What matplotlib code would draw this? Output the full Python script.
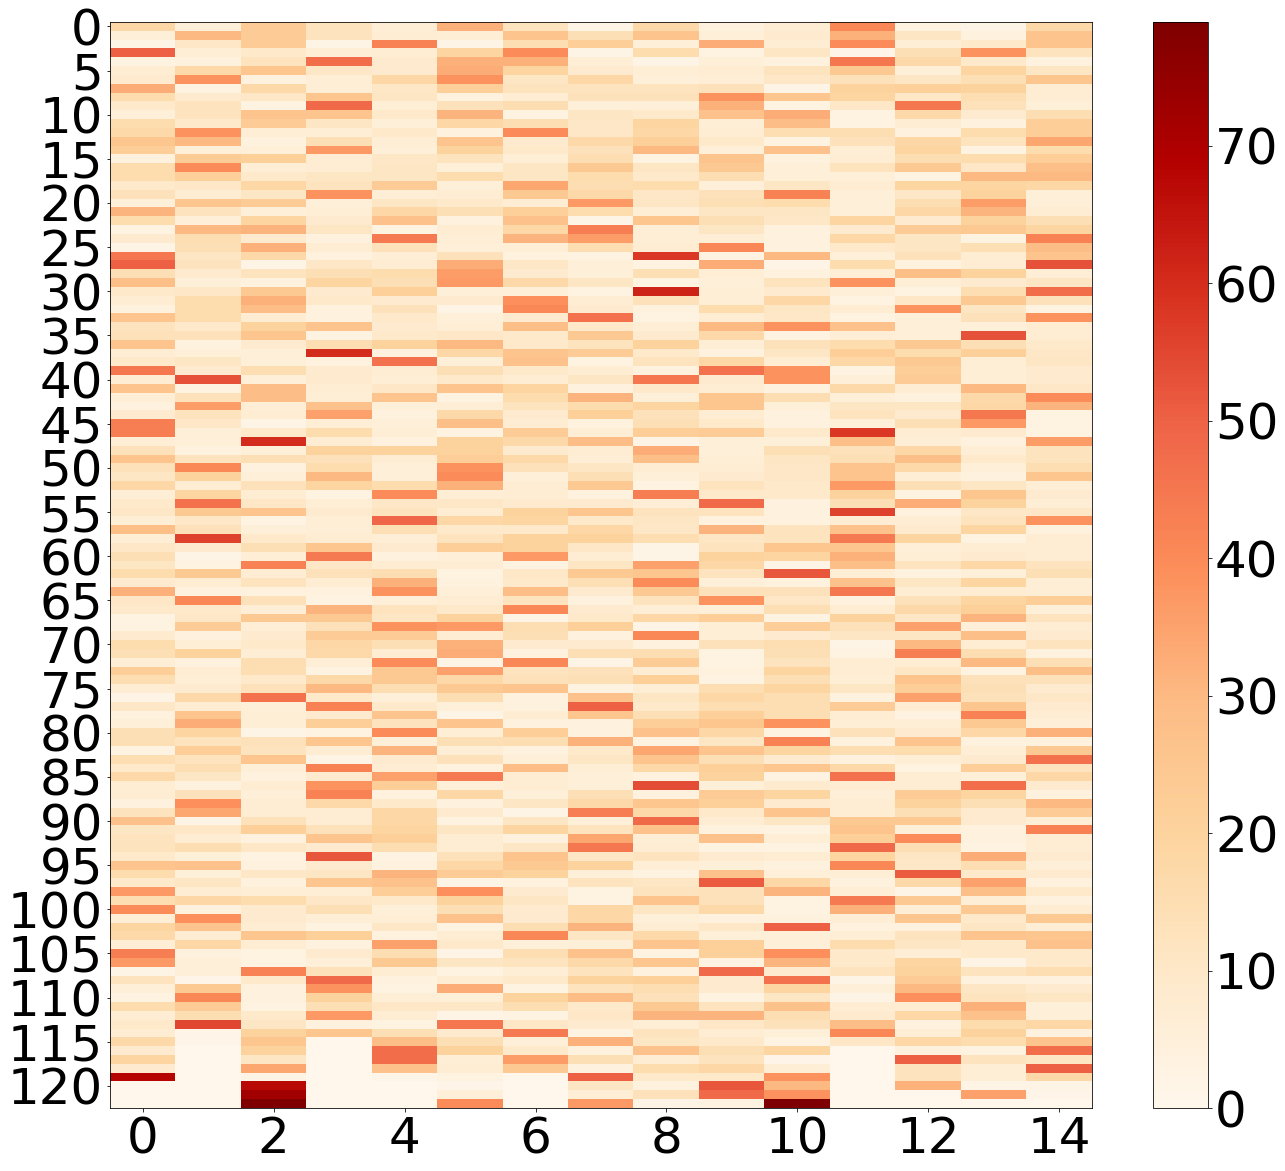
import matplotlib
matplotlib.use("Agg")
import matplotlib.pyplot as plt
import numpy as np

WIDTH = 1285
HEIGHT = 1171
DPI = 72
FONT_SIZE = 50

ROWS_0_20 = [
    [18, 5, 23, 12, 6, 32, 12, 2, 17, 4, 7, 41, 3, 2, 17],
    [5, 30, 23, 12, 7, 6, 26, 14, 26, 5, 8, 32, 11, 4, 26],
    [2, 10, 23, 2, 42, 2, 15, 22, 5, 33, 7, 40, 6, 9, 26],
    [50, 6, 9, 6, 7, 19, 40, 2, 16, 3, 11, 1, 14, 38, 12],
    [3, 4, 12, 47, 8, 32, 32, 6, 2, 5, 4, 45, 17, 9, 4],
    [7, 17, 25, 10, 8, 33, 19, 8, 6, 7, 12, 24, 5, 19, 11],
    [8, 38, 4, 6, 18, 38, 11, 18, 5, 6, 10, 13, 11, 14, 25],
    [33, 3, 17, 6, 10, 21, 12, 12, 12, 13, 2, 20, 21, 20, 7],
    [16, 8, 10, 25, 11, 4, 7, 13, 13, 38, 25, 19, 10, 15, 7],
    [9, 12, 3, 48, 6, 13, 15, 5, 5, 32, 3, 10, 45, 13, 5],
    [5, 12, 26, 26, 9, 31, 3, 11, 9, 27, 33, 3, 17, 8, 15],
    [16, 9, 23, 11, 5, 18, 15, 10, 19, 6, 29, 3, 7, 4, 22],
    [17, 38, 6, 6, 9, 4, 40, 10, 18, 7, 15, 15, 4, 16, 22],
    [25, 30, 4, 14, 6, 26, 8, 17, 21, 9, 3, 13, 18, 12, 34],
    [22, 5, 5, 37, 5, 20, 9, 13, 30, 5, 27, 6, 19, 3, 16],
    [4, 23, 21, 7, 10, 12, 6, 15, 3, 26, 4, 7, 15, 16, 22],
    [16, 40, 6, 7, 11, 5, 11, 24, 11, 24, 5, 12, 24, 10, 28],
    [16, 21, 9, 11, 11, 16, 11, 16, 9, 15, 5, 5, 3, 30, 30],
    [9, 10, 18, 12, 23, 5, 34, 15, 16, 5, 11, 7, 19, 19, 18],
    [13, 7, 11, 38, 6, 7, 24, 17, 10, 13, 42, 5, 10, 20, 5],
    [5, 25, 23, 5, 11, 9, 7, 37, 11, 14, 16, 5, 15, 36, 5],
]

ROWS_21_40 = [
    [31, 12, 5, 6, 18, 14, 21, 16, 6, 11, 11, 5, 18, 31, 7],
    [16, 5, 19, 8, 27, 4, 27, 2, 25, 14, 10, 19, 8, 20, 14],
    [3, 30, 31, 11, 3, 7, 18, 43, 6, 11, 4, 8, 23, 24, 19],
    [8, 15, 8, 4, 44, 6, 31, 36, 6, 6, 4, 18, 11, 3, 42],
    [2, 14, 32, 7, 13, 5, 6, 15, 7, 41, 4, 9, 11, 14, 29],
    [45, 11, 17, 4, 6, 13, 4, 3, 58, 3, 30, 5, 13, 7, 26],
    [50, 12, 2, 10, 7, 33, 10, 5, 3, 33, 2, 16, 4, 7, 53],
    [14, 8, 12, 14, 16, 36, 8, 5, 14, 6, 4, 6, 28, 20, 6],
    [28, 5, 4, 19, 14, 37, 17, 11, 3, 5, 12, 38, 6, 8, 11],
    [9, 10, 24, 8, 21, 5, 5, 3, 62, 6, 8, 5, 3, 15, 47],
    [7, 16, 32, 9, 8, 8, 39, 7, 13, 6, 18, 3, 10, 24, 13],
    [4, 16, 29, 4, 13, 2, 41, 8, 4, 16, 11, 7, 38, 11, 3],
    [26, 16, 7, 4, 9, 5, 8, 46, 3, 7, 10, 3, 5, 13, 38],
    [12, 9, 20, 26, 8, 6, 28, 9, 6, 30, 38, 27, 5, 5, 7],
    [13, 13, 25, 3, 9, 10, 9, 24, 8, 17, 3, 6, 5, 53, 7],
    [26, 4, 8, 15, 20, 30, 9, 12, 20, 6, 13, 16, 24, 14, 9],
    [7, 5, 5, 60, 4, 18, 26, 23, 9, 4, 11, 22, 16, 21, 10],
    [9, 11, 5, 4, 46, 5, 27, 3, 12, 18, 7, 18, 24, 6, 11],
    [45, 8, 15, 8, 7, 14, 9, 7, 4, 46, 38, 3, 22, 6, 8],
    [7, 53, 5, 8, 6, 9, 7, 11, 45, 8, 38, 5, 23, 6, 8],
]

ROWS_41_61 = [
    [26, 3, 29, 7, 10, 26, 19, 4, 9, 7, 4, 17, 7, 30, 10],
    [6, 13, 29, 6, 26, 3, 16, 31, 5, 25, 15, 5, 4, 17, 40],
    [4, 36, 6, 27, 5, 6, 12, 16, 19, 25, 5, 11, 11, 18, 31],
    [8, 12, 7, 35, 4, 17, 8, 21, 13, 7, 4, 12, 8, 45, 3],
    [43, 10, 2, 6, 5, 28, 7, 4, 14, 9, 4, 5, 14, 37, 3],
    [43, 5, 9, 16, 6, 3, 23, 6, 22, 23, 9, 58, 7, 8, 3],
    [6, 5, 60, 7, 4, 20, 17, 29, 2, 5, 5, 28, 6, 4, 36],
    [13, 4, 5, 20, 20, 20, 8, 7, 33, 5, 14, 13, 18, 6, 12],
    [26, 12, 14, 13, 7, 22, 17, 6, 28, 6, 11, 14, 28, 9, 12],
    [13, 41, 4, 16, 5, 38, 13, 11, 7, 7, 10, 26, 17, 5, 15],
    [11, 20, 5, 30, 5, 40, 5, 14, 5, 8, 10, 26, 6, 4, 25],
    [18, 7, 13, 19, 16, 32, 7, 24, 3, 12, 9, 37, 14, 11, 6],
    [6, 19, 7, 3, 40, 6, 7, 4, 43, 9, 9, 20, 3, 25, 8],
    [9, 46, 10, 6, 10, 10, 8, 8, 6, 48, 4, 14, 33, 20, 6],
    [10, 24, 26, 8, 12, 7, 20, 25, 12, 12, 4, 56, 4, 10, 10],
    [6, 10, 3, 6, 49, 18, 19, 9, 11, 4, 4, 7, 7, 12, 38],
    [28, 13, 5, 6, 14, 9, 9, 18, 10, 31, 12, 27, 8, 19, 4],
    [6, 56, 9, 7, 6, 12, 20, 20, 15, 11, 12, 44, 19, 3, 7],
    [10, 8, 14, 25, 8, 22, 20, 10, 2, 12, 25, 25, 5, 7, 7],
    [14, 2, 6, 44, 4, 5, 37, 7, 2, 20, 19, 32, 6, 8, 7],
    [11, 3, 42, 10, 7, 7, 3, 11, 35, 18, 2, 28, 12, 18, 12],
]

ROWS_62_81 = [
    [16, 24, 7, 13, 15, 3, 10, 24, 25, 12, 52, 6, 4, 5, 14],
    [8, 7, 12, 7, 32, 4, 9, 14, 40, 5, 4, 27, 11, 19, 6],
    [32, 4, 4, 4, 38, 5, 29, 8, 24, 13, 13, 45, 7, 7, 6],
    [10, 41, 13, 3, 5, 7, 12, 4, 12, 38, 10, 4, 13, 19, 22],
    [9, 9, 6, 31, 12, 9, 41, 8, 6, 5, 14, 7, 17, 21, 5],
    [3, 10, 24, 24, 11, 20, 2, 9, 18, 22, 3, 20, 10, 31, 12],
    [3, 23, 6, 13, 38, 37, 15, 21, 2, 6, 22, 13, 35, 5, 7],
    [8, 4, 8, 23, 23, 7, 14, 4, 41, 6, 8, 11, 11, 28, 8],
    [16, 6, 9, 18, 14, 32, 8, 8, 4, 13, 15, 2, 30, 7, 12],
    [14, 20, 6, 17, 7, 33, 4, 14, 15, 3, 14, 3, 43, 15, 4],
    [6, 4, 15, 6, 40, 2, 41, 2, 23, 3, 12, 7, 7, 30, 14],
    [22, 7, 15, 3, 24, 35, 12, 13, 7, 4, 19, 7, 11, 3, 28],
    [15, 6, 9, 17, 24, 17, 13, 14, 21, 3, 14, 6, 26, 13, 13],
    [7, 8, 13, 30, 15, 24, 26, 3, 6, 15, 19, 11, 22, 14, 8],
    [2, 17, 46, 9, 5, 15, 4, 27, 11, 18, 15, 4, 35, 13, 10],
    [10, 7, 5, 42, 9, 5, 4, 50, 9, 15, 15, 23, 7, 25, 8],
    [4, 26, 6, 8, 26, 2, 7, 25, 14, 21, 15, 7, 3, 42, 7],
    [5, 33, 6, 22, 12, 26, 4, 4, 22, 25, 38, 6, 6, 24, 5],
    [14, 19, 2, 3, 40, 6, 22, 4, 27, 18, 3, 13, 8, 18, 32],
    [14, 12, 13, 25, 5, 14, 15, 32, 3, 11, 42, 4, 26, 4, 4],
]

ROWS_82_102 = [
    [3, 22, 12, 7, 31, 6, 4, 9, 34, 26, 19, 15, 16, 6, 24],
    [15, 12, 25, 2, 8, 13, 5, 11, 26, 14, 8, 4, 6, 8, 46],
    [9, 15, 5, 42, 7, 4, 29, 6, 17, 21, 25, 17, 3, 22, 12],
    [17, 11, 4, 8, 35, 44, 7, 5, 4, 20, 3, 46, 7, 5, 18],
    [7, 4, 7, 38, 22, 5, 7, 5, 54, 5, 8, 7, 7, 47, 8],
    [7, 13, 5, 42, 4, 18, 5, 14, 4, 23, 19, 5, 23, 19, 4],
    [4, 39, 7, 17, 9, 4, 11, 17, 25, 21, 8, 7, 20, 14, 30],
    [12, 34, 7, 7, 18, 8, 2, 43, 17, 9, 26, 7, 14, 8, 23],
    [27, 2, 13, 7, 18, 3, 11, 5, 48, 7, 11, 24, 24, 8, 6],
    [11, 10, 21, 13, 19, 11, 19, 12, 27, 4, 3, 26, 5, 4, 42],
    [12, 7, 4, 26, 21, 7, 4, 34, 6, 27, 6, 21, 40, 4, 7],
    [12, 15, 10, 8, 15, 7, 11, 45, 7, 3, 3, 48, 14, 3, 7],
    [9, 5, 3, 52, 3, 13, 26, 10, 12, 8, 7, 19, 11, 33, 8],
    [26, 27, 4, 8, 4, 18, 24, 20, 6, 5, 4, 41, 10, 15, 5],
    [16, 5, 10, 11, 31, 23, 20, 5, 3, 27, 5, 6, 51, 9, 8],
    [9, 11, 4, 25, 27, 2, 4, 12, 11, 51, 18, 4, 17, 35, 4],
    [37, 7, 6, 6, 22, 39, 8, 3, 12, 13, 31, 6, 2, 28, 9],
    [15, 18, 16, 10, 9, 20, 11, 3, 26, 13, 3, 44, 24, 6, 4],
    [40, 4, 8, 14, 5, 14, 8, 18, 11, 17, 3, 32, 6, 24, 7],
    [6, 39, 8, 6, 6, 27, 8, 18, 5, 4, 4, 6, 25, 9, 24],
    [19, 26, 7, 3, 10, 3, 15, 31, 7, 10, 50, 4, 4, 11, 6],
]

ROWS_103_122 = [
    [17, 7, 25, 21, 4, 7, 41, 11, 17, 5, 5, 6, 12, 26, 25],
    [6, 18, 7, 4, 35, 9, 5, 5, 26, 21, 5, 16, 11, 9, 27],
    [43, 4, 3, 8, 15, 2, 15, 27, 3, 21, 39, 9, 6, 9, 9],
    [37, 5, 3, 5, 24, 11, 12, 17, 25, 3, 31, 9, 19, 2, 9],
    [2, 5, 42, 13, 7, 3, 6, 12, 4, 48, 8, 12, 20, 12, 15],
    [12, 1, 9, 48, 4, 7, 9, 20, 21, 8, 46, 2, 23, 4, 4],
    [5, 24, 4, 38, 3, 33, 3, 12, 15, 8, 19, 5, 30, 11, 8],
    [3, 41, 4, 20, 6, 5, 20, 29, 13, 3, 11, 2, 39, 12, 11],
    [16, 23, 3, 14, 10, 10, 15, 9, 24, 12, 27, 7, 7, 32, 5],
    [7, 15, 9, 37, 7, 2, 3, 10, 31, 31, 15, 8, 18, 27, 5],
    [9, 55, 11, 4, 3, 45, 10, 8, 6, 10, 13, 29, 4, 16, 18],
    [7, 1, 20, 25, 14, 8, 44, 3, 12, 7, 5, 41, 6, 20, 4],
    [17, 1, 25, 0, 29, 14, 5, 32, 11, 9, 3, 10, 18, 16, 26],
    [8, 0, 20, 0, 47, 20, 9, 4, 27, 14, 19, 0, 4, 3, 47],
    [19, 0, 11, 0, 47, 6, 36, 14, 7, 12, 1, 0, 50, 12, 11],
    [8, 0, 34, 0, 27, 7, 24, 4, 16, 18, 6, 0, 12, 6, 50],
    [68, 0, 2, 0, 1, 3, 0, 50, 9, 9, 38, 0, 12, 6, 17],
    [0, 0, 67, 0, 0, 1, 0, 11, 4, 52, 30, 0, 32, 2, 2],
    [0, 0, 72, 0, 0, 5, 0, 6, 13, 48, 38, 0, 0, 35, 1],
    [0, 0, 79, 0, 0, 40, 0, 37, 2, 3, 79, 0, 0, 0, 0],
]

X_TICKS = list(range(0, 15, 2))
Y_TICKS = list(range(0, 121, 5))
COLORBAR_TICKS = list(range(0, 71, 10))


def axes_box(left, top, right, bottom):
    return [
        left / WIDTH,
        1 - bottom / HEIGHT,
        (right - left) / WIDTH,
        (bottom - top) / HEIGHT,
    ]


def main():
    plt.rcParams["font.size"] = FONT_SIZE

    values = np.array(
        ROWS_0_20 + ROWS_21_40 + ROWS_41_61 + ROWS_62_81 + ROWS_82_102 + ROWS_103_122
    )

    fig = plt.figure(figsize=(WIDTH / DPI, HEIGHT / DPI), dpi=DPI)
    ax = fig.add_axes(axes_box(110, 22, 1092, 1108))
    cax = fig.add_axes(axes_box(1153, 22, 1208, 1108))

    image = ax.imshow(
        values,
        cmap="OrRd",
        vmin=0,
        vmax=79,
        aspect="auto",
        interpolation="nearest",
    )
    ax.set_xticks(X_TICKS)
    ax.set_yticks(Y_TICKS)

    colorbar = fig.colorbar(image, cax=cax)
    colorbar.set_ticks(COLORBAR_TICKS)

    fig.savefig("out.png", dpi=DPI)


if __name__ == "__main__":
    main()
